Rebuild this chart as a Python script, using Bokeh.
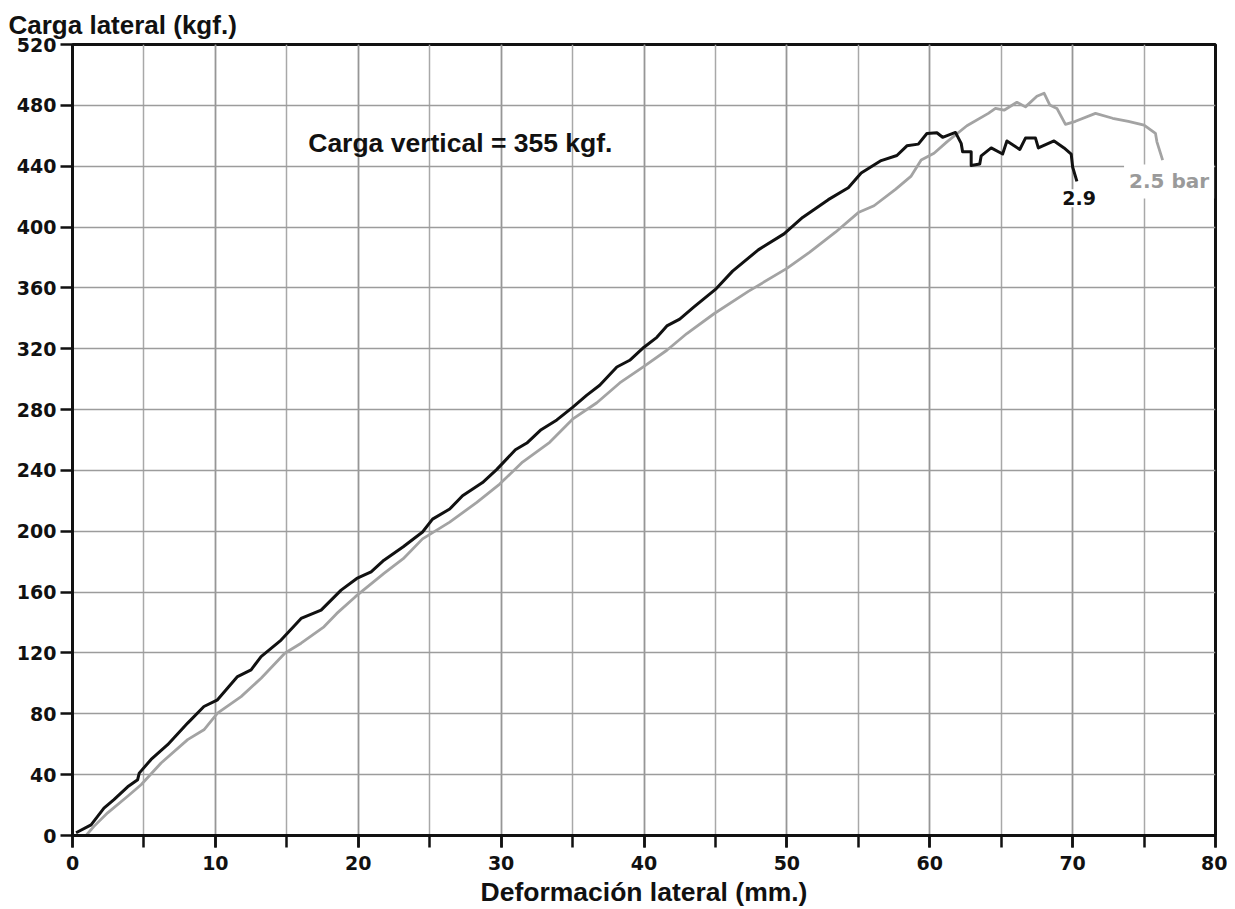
from bokeh.plotting import figure
from bokeh.models import Range1d, SingleIntervalTicker, Label, ColumnDataSource
from bokeh.embed import file_html
from bokeh.resources import INLINE

# ---- data ----
x_ticks_interval = 10
y_ticks_interval = 40

# curve "2.9" (black)
x_29 = [0.25, 1.3, 2.2, 2.9, 3.86, 4.56, 4.67, 5.5, 6.66, 8.06, 9.2, 10.15, 11.55, 12.5,
        13.2, 14.6, 16.0, 17.4, 18.8, 19.9, 20.9, 21.8, 23.15, 24.5, 25.2, 26.4, 27.3,
        28.7, 29.7, 31.0, 31.8, 32.8, 33.9, 35.0, 36.0, 36.9, 38.1, 39.0, 40.0, 40.9,
        41.6, 42.5, 43.5, 45.0, 46.2, 48.0, 49.8, 51.1, 52.9, 54.3, 55.2, 56.6, 57.7,
        58.4, 59.2, 59.8, 60.5, 60.9, 61.8, 62.2, 62.3, 62.9, 62.9, 63.5, 63.6, 64.3,
        65.1, 65.4, 66.3, 66.7, 67.4, 67.6, 68.7, 69.4, 69.9, 70.0, 70.3]
y_29 = [1.8, 7, 18, 23.6, 32, 36.7, 41, 50, 59.7, 73.9, 84.8, 89.2, 104.5, 108.9,
        117.6, 128.5, 142.7, 148.2, 161.3, 169, 173.3, 181, 189.8, 199.5, 208, 214.6, 223.3,
        232, 240.7, 253.6, 258, 266.8, 273.2, 281.5, 289.5, 296, 308, 312.4, 321, 327.5,
        335, 339.5, 347.5, 359, 371, 385, 395.5, 406.3, 418, 425.8, 435.5, 443.7, 447,
        453.4, 454.5, 461.5, 462, 459, 462.2, 455, 449.5, 449.5, 440.5, 441.5, 446.8, 452,
        448, 456.6, 451, 458.5, 458.5, 452, 456.6, 452, 448, 439.5, 430]

# curve "2.5 bar" (grey)
x_25 = [0.95, 1.5, 2.46, 3.86, 4.8, 6.2, 8.06, 9.2, 10.15, 11.8, 13.2, 14.86, 16.0, 17.6,
        18.5, 19.8, 21.8, 23.15, 24.5, 26.4, 28.3, 29.9, 31.5, 33.4, 35.0, 36.7, 38.3,
        40.0, 41.6, 43.0, 44.9, 47.3, 50.0, 51.6, 53.4, 55.0, 56.1, 57.6, 58.7, 59.4,
        60.3, 61.2, 62.6, 64.1, 64.6, 65.2, 66.1, 66.7, 67.5, 68.0, 68.4, 68.9, 69.5,
        70.2, 71.6, 72.8, 73.9, 75.0, 75.8, 75.9, 76.3]
y_25 = [0, 6, 14.9, 25.8, 33.4, 47.7, 63, 69.5, 80.5, 91.3, 103.4, 119.8, 126.4, 137.2,
        146, 157, 172.3, 182, 195, 206, 219, 231, 245.5, 258.5, 273.7, 284.5, 297.5,
        308.4, 319, 330, 343, 357.7, 372.8, 383.5, 396.6, 409.5, 414, 424.8, 433.5, 444,
        448.5, 456, 466.6, 474.7, 478, 476.8, 482, 479, 486, 488, 480.3, 478, 467.5,
        469.5, 474.7, 471.5, 469.5, 467, 461.5, 456, 444]

title_text = "Carga lateral (kgf.)"
x_label = "Deformación lateral (mm.)"
note_text = "Carga vertical = 355 kgf."
label_29 = "2.9"
label_25 = "2.5 bar"

BIG = "Liberation Sans"
TICKF = "DejaVu Sans"

p = figure(width=1227, height=909, output_backend="svg", toolbar_location=None,
           x_range=Range1d(0, 80), y_range=Range1d(0, 520),
           min_border_left=72, min_border_right=12, min_border_top=44, min_border_bottom=73)

p.title.text = title_text
p.title.align = "left"
p.title.offset = -64
p.title.standoff = 10
p.title.text_font = BIG
p.title.text_font_size = "26px"
p.title.text_font_style = "bold"
p.title.text_color = "#111111"

p.xaxis.ticker = SingleIntervalTicker(interval=x_ticks_interval, num_minor_ticks=2)
p.yaxis.ticker = SingleIntervalTicker(interval=y_ticks_interval, num_minor_ticks=0)

for ax in (p.xaxis[0], p.yaxis[0]):
    ax.axis_line_width = 3
    ax.axis_line_color = "#111111"
    ax.major_tick_line_width = 2.5
    ax.major_tick_line_color = "#111111"
    ax.major_tick_in = 0
    ax.major_tick_out = 12
    ax.minor_tick_line_width = 2.5
    ax.minor_tick_line_color = "#111111"
    ax.minor_tick_in = 0
    ax.major_label_text_font = TICKF
    ax.major_label_text_font_size = "19px"
    ax.major_label_text_font_style = "bold"
    ax.major_label_text_color = "#111111"

p.xaxis.minor_tick_out = 12
p.yaxis.minor_tick_out = 0
p.xaxis.major_label_standoff = 8
p.yaxis.major_label_standoff = 4

p.xaxis.axis_label = x_label
p.xaxis.axis_label_text_font = BIG
p.xaxis.axis_label_text_font_size = "26.5px"
p.xaxis.axis_label_text_font_style = "bold"
p.xaxis.axis_label_text_color = "#111111"
p.xaxis.axis_label_standoff = 4

p.outline_line_color = "#111111"
p.outline_line_width = 3
p.outline_line_alpha = 1

p.xgrid.grid_line_color = "#969696"
p.xgrid.grid_line_width = 1.5
p.xgrid.minor_grid_line_color = "#a8a8a8"
p.xgrid.minor_grid_line_width = 1.5
p.ygrid.grid_line_color = "#9c9c9c"
p.ygrid.grid_line_width = 1.5

src25 = ColumnDataSource(dict(x=x_25, y=y_25))
src29 = ColumnDataSource(dict(x=x_29, y=y_29))
p.line("x", "y", source=src25, line_color="#a3a3a3", line_width=2.8, line_join="round")
p.line("x", "y", source=src29, line_color="#111111", line_width=3, line_join="round")

p.add_layout(Label(x=16.5, y=455, text=note_text, text_font=BIG, text_font_size="26.5px",
                   text_font_style="bold", text_color="#111111", text_baseline="alphabetic"))
p.add_layout(Label(x=70.45, y=419, text=label_29, text_font=TICKF, text_font_size="19px",
                   text_font_style="bold", text_color="#111111", text_align="center",
                   text_baseline="alphabetic", background_fill_color="white", padding=2))
p.add_layout(Label(x=73.6, y=430, text=label_25, text_font=TICKF, text_font_size="20px",
                   text_font_style="bold", text_color="#9a9a9a", text_baseline="alphabetic",
                   background_fill_color="white", padding=5))

open("out.html", "w").write(file_html(p, INLINE))
